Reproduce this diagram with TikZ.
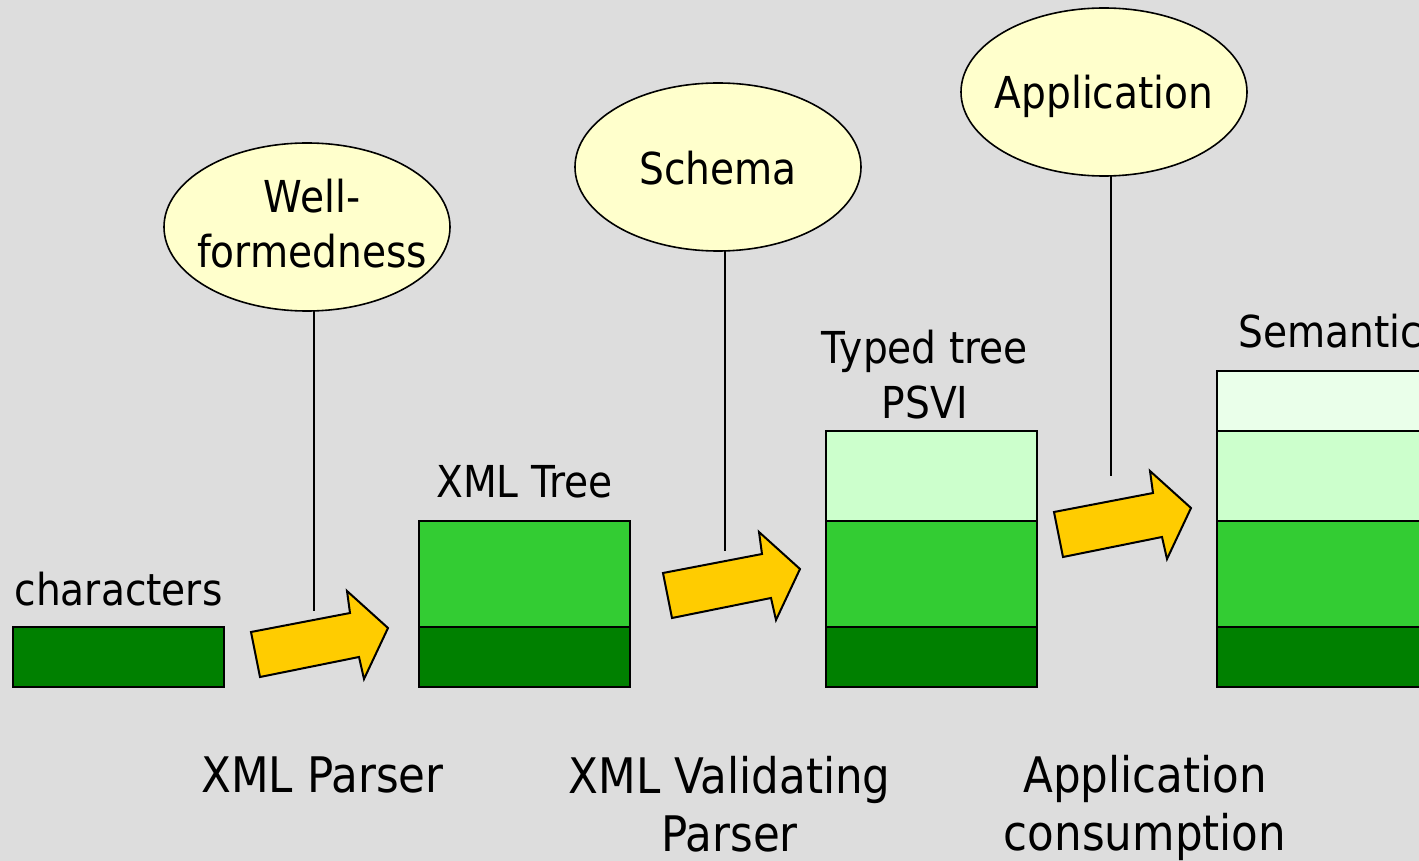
\documentclass[tikz,border=0pt]{standalone}
\usepackage{fontspec}
\setmainfont[FakeStretch=0.89]{DejaVu Sans}
\usetikzlibrary{shapes.geometric}
\definecolor{bg}{RGB}{221,221,221}
\definecolor{dkgreen}{RGB}{0,128,0}
\definecolor{midgreen}{RGB}{51,204,51}
\definecolor{palegreen}{RGB}{204,255,204}
\definecolor{palergreen}{RGB}{234,255,234}
\definecolor{ellfill}{RGB}{255,255,204}
\definecolor{arrowyellow}{RGB}{255,204,0}
\tikzset{
  layer/.style={draw=black, line width=1pt, minimum width=105.5pt, inner sep=0pt, outer sep=0pt},
  bubble/.style={ellipse, draw=black, line width=0.8pt, fill=ellfill, minimum width=143pt, minimum height=84pt, inner sep=0pt, outer sep=0pt},
  lbl/.style={inner sep=0pt, anchor=base, align=center, font=\fontsize{22pt}{27.5pt}\selectfont},
  biglbl/.style={inner sep=0pt, anchor=base, align=center, font=\fontsize{24.5pt}{29pt}\selectfont},
  stem/.style={line width=1pt, draw=black},
  fatarrow/.pic={\draw[fill=arrowyellow, line width=1pt, line join=miter]
     (-137,4) -- (-38,-15) -- (-41,-37) -- (0,0) -- (-24,51) -- (-29,29) -- (-128,49) -- cycle;}
}
\begin{document}
\begin{tikzpicture}[x=0.5pt,y=-0.5pt]
\useasboundingbox (0,0) rectangle (1419,861);
\fill[bg] (0,0) rectangle (1419,861);
\clip (0,0) rectangle (1419,861);

% characters
\node[layer, fill=dkgreen, minimum height=30pt] (chars) at (118.5,657) {};
\node[lbl] (charslbl) at (118.5,605) {characters};

% XML tree
\node[layer, fill=midgreen, minimum height=53pt] (xt2) at (524.5,574) {};
\node[layer, fill=dkgreen, minimum height=30pt] (xt1) at (524.5,657) {};
\node[lbl] (xtlbl) at (524.5,497) {XML Tree};

% Typed tree
\node[layer, fill=palegreen, minimum height=45pt] (tt3) at (931.5,476) {};
\node[layer, fill=midgreen, minimum height=53pt] (tt2) at (931.5,574) {};
\node[layer, fill=dkgreen, minimum height=30pt] (tt1) at (931.5,657) {};
\node[lbl] (ttlbl) at (925,418) {Typed tree\\PSVI};

% Semantic
\node[layer, fill=palergreen, minimum height=30pt] (st4) at (1322.5,401) {};
\node[layer, fill=palegreen, minimum height=45pt] (st3) at (1322.5,476) {};
\node[layer, fill=midgreen, minimum height=53pt] (st2) at (1322.5,574) {};
\node[layer, fill=dkgreen, minimum height=30pt] (st1) at (1322.5,657) {};
\node[lbl, anchor=base west] (stlbl) at (1238,348) {Semantic};

% ellipses
\node[bubble] (wf) at (307,227) {};
\node[lbl] (wflbl) at (312,268) {Well-\\formedness};
\node[bubble] (sc) at (718,167) {};
\node[lbl] (sclbl) at (718,185) {Schema};
\node[bubble] (ap) at (1104,92) {};
\node[lbl] (aplbl) at (1104,109) {Application};

% stems
\coordinate (e1) at (314,611);
\coordinate (e2) at (725,551);
\coordinate (e3) at (1111,476);
\draw[stem] (wf.south -| e1) -- (e1);
\draw[stem] (sc.south -| e2) -- (e2);
\draw[stem] (ap.south -| e3) -- (e3);

% arrows
\pic at (388,628) {fatarrow};
\pic at (800,569) {fatarrow};
\pic at (1191,508) {fatarrow};

% bottom labels
\node[biglbl] (p1) at (322.5,792) {XML Parser};
\node[biglbl] (p2) at (729.5,851) {XML Validating\\Parser};
\node[biglbl] (p3) at (1145,850) {Application\\consumption};
\end{tikzpicture}
\end{document}
